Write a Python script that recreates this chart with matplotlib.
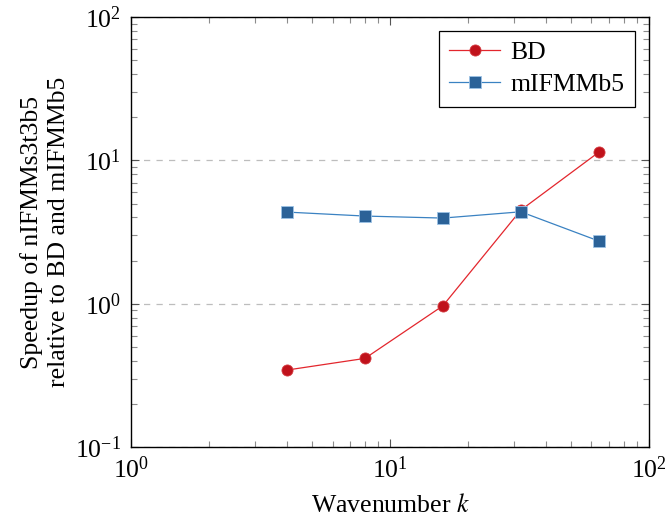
import numpy as np
import matplotlib
matplotlib.use('Agg')
import matplotlib.pyplot as plt
from matplotlib.ticker import LogLocator, NullFormatter

plt.rcParams['font.family'] = ['Liberation Serif', 'DejaVu Serif']
plt.rcParams['mathtext.fontset'] = 'stix'
plt.rcParams['font.size'] = 18.5

k = [4, 8, 16, 32, 64]
speedup_bd = [0.345, 0.416, 0.968, 4.5, 11.4]
speedup_mifmm = [4.36, 4.09, 3.96, 4.38, 2.74]

fig = plt.figure(figsize=(6.69, 5.23), dpi=100)
ax = fig.add_axes([0.196, 0.145, 0.774, 0.8225])

ax.plot(k, speedup_bd, color='#e3262d', lw=0.9, marker='o', markersize=8,
        markerfacecolor='#c0121b', markeredgecolor='#d43a40', markeredgewidth=0.6,
        label='BD', zorder=3)
ax.plot(k, speedup_mifmm, color='#3a82c2', lw=0.9, marker='s', markersize=8,
        markerfacecolor='#2b6298', markeredgecolor='#9cc2e6', markeredgewidth=0.6,
        label='mIFMMb5', zorder=3)

ax.set_xscale('log')
ax.set_yscale('log')
ax.set_xlim(1, 100)
ax.set_ylim(0.1, 100)

ax.xaxis.set_minor_locator(LogLocator(base=10, subs=np.arange(2, 10)))
ax.yaxis.set_minor_locator(LogLocator(base=10, subs=np.arange(2, 10)))
ax.xaxis.set_minor_formatter(NullFormatter())
ax.yaxis.set_minor_formatter(NullFormatter())

ax.tick_params(which='both', direction='in', top=True, right=True)
ax.tick_params(which='major', length=6, width=0.8, color='#555555', pad=7)
ax.tick_params(which='minor', length=4, width=0.8, color='#8c8c8c')

ax.grid(True, which='major', axis='y', linestyle=(0, (5, 5)), color='#bdbdbd', lw=0.9)
ax.set_axisbelow(True)

for s in ax.spines.values():
    s.set_linewidth(1.0)
    s.set_color('black')

ax.set_xlabel('Wavenumber $k$', labelpad=8)
ax.set_ylabel('Speedup of nIFMMs3t3b5\nrelative to BD and mIFMMb5', labelpad=4,
              linespacing=1.3)

leg = ax.legend(loc='upper right', fancybox=False, framealpha=1, edgecolor='black',
                borderpad=0.4, handlelength=2.0, handletextpad=0.4,
                labelspacing=0.35, borderaxespad=0.55)
leg.get_frame().set_linewidth(0.9)

fig.savefig('out.png', dpi=100)
